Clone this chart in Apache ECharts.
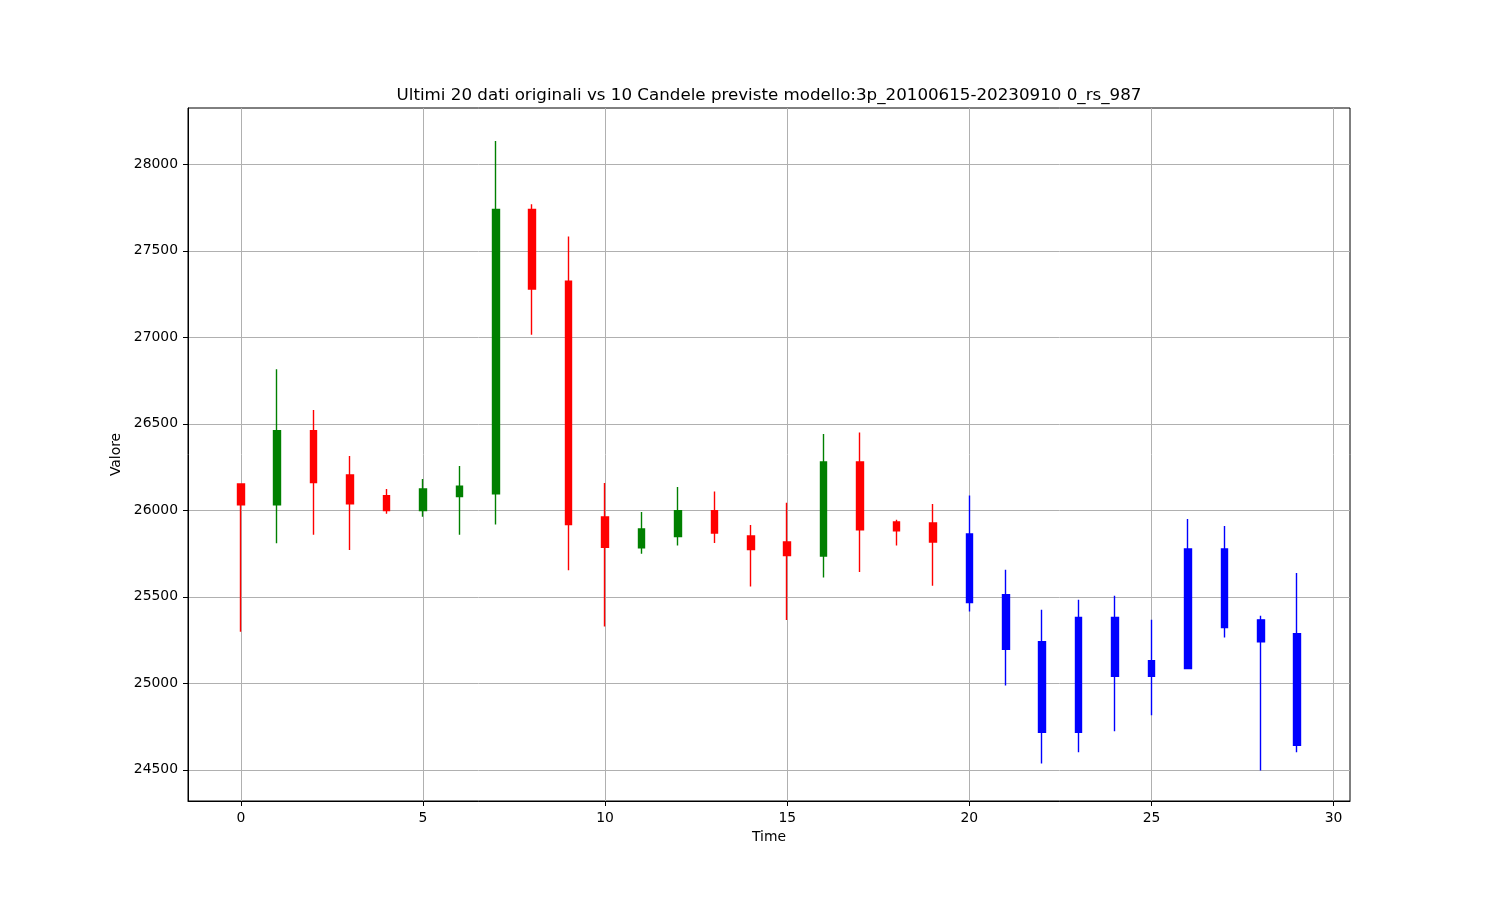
<!DOCTYPE html>
<html><head><meta charset="utf-8">
<script src="https://cdn.jsdelivr.net/npm/echarts@6/dist/echarts.min.js"></script>
<style>html,body{margin:0;padding:0;background:#fff}#c{width:1500px;height:900px}</style>
</head><body><div id="c"></div>
<script>
// Historical candles (x = 0..19)
const histTime  = [0,1,2,3,4,5,6,7,8,9,10,11,12,13,14,15,16,17,18,19];
const histOpen  = [26152,26032,26460,26204,26084,25998,26079,26096,27739,27324,25961,25784,25848,25998,25852,25817,25736,26279,25933,25927];
const histClose = [26032,26460,26160,26038,25998,26123,26140,27739,27279,25918,25786,25892,25998,25869,25773,25738,26279,25888,25882,25817];
const histLow   = [25298,25809,25859,25771,25980,25963,25859,25918,27014,25653,25329,25749,25796,25811,25559,25366,25611,25643,25796,25564];
const histHigh  = [26152,26815,26580,26314,26123,26181,26256,28135,27769,27583,26158,25990,26135,26108,25915,26044,26441,26449,25946,26037];
// Predicted candles (x = 20..29)
const predTime  = [20,21,22,23,24,25,26,27,28,29];
const predOpen  = [25863,25512,25240,25381,25381,25131,25777,25777,25367,25287];
const predClose = [25467,25196,24717,24717,25040,25040,25085,25323,25240,24642];
const predLow   = [25415,24988,24537,24602,24723,24815,25085,25265,24496,24602];
const predHigh  = [26085,25656,25425,25483,25506,25367,25950,25910,25390,25638];
// Axis ticks
const xTicks = [0,5,10,15,20,25,30];
const yTicks = [24500,25000,25500,26000,26500,27000,27500,28000];
const xRange = [-1.45, 30.45];
const yRange = [24320, 28325];

const titleText = 'Ultimi 20 dati originali vs 10 Candele previste modello:3p_20100615-20230910 0_rs_987';

const histData = histTime.map((t,i)=>[t, histOpen[i], histClose[i], histLow[i], histHigh[i]]);
const predData = predTime.map((t,i)=>[t, predOpen[i], predClose[i], predLow[i], predHigh[i]]);

const font = 'DejaVu Sans';
const chart = echarts.init(document.getElementById('c'), null, {renderer:'canvas'});
chart.setOption({
  animation:false,
  backgroundColor:'#ffffff',
  title:{text:titleText, left:764, top:82, textAlign:'center',
    textStyle:{fontFamily:font, fontSize:16.7, fontWeight:'normal', color:'#000'}},
  grid:{left:188, right:150, top:108, bottom:99, show:true, borderColor:'#000', borderWidth:1, backgroundColor:'transparent'},
  xAxis:{type:'value', min:xRange[0], max:xRange[1],
    name:'Time', nameLocation:'middle', nameGap:28,
    nameTextStyle:{fontFamily:font, fontSize:13.9, color:'#000'},
    axisLine:{show:true, onZero:false, lineStyle:{color:'#000', width:1}},
    axisTick:{show:true, inside:false, length:5, customValues:xTicks, lineStyle:{color:'#000'}},
    axisLabel:{customValues:xTicks, margin:10, fontFamily:font, fontSize:13.9, color:'#000',
      formatter:v=>String(v)},
    splitLine:{show:true, lineStyle:{color:'#b0b0b0', width:1}}
  },
  yAxis:{type:'value', min:yRange[0], max:yRange[1],
    name:'Valore', nameLocation:'middle', nameGap:47, nameRotate:90,
    nameTextStyle:{fontFamily:font, fontSize:13.9, color:'#000'},
    axisLine:{show:true, onZero:false, lineStyle:{color:'#000', width:1}},
    axisTick:{show:true, inside:false, length:5, customValues:yTicks, lineStyle:{color:'#000'}},
    axisLabel:{customValues:yTicks, margin:10, fontFamily:font, fontSize:13.9, color:'#000',
      formatter:v=>String(v)},
    splitLine:{show:true, lineStyle:{color:'#b0b0b0', width:1}}
  },
  series:[
    {type:'candlestick', name:'hist', data:histData, encode:{x:0, y:[1,2,3,4]},
      barWidth:7,
      itemStyle:{color:'#008000', color0:'#ff0000', borderColor:'#008000', borderColor0:'#ff0000', borderWidth:1.4}},
    {type:'candlestick', name:'pred', data:predData, encode:{x:0, y:[1,2,3,4]},
      barWidth:7,
      itemStyle:{color:'#0000ff', color0:'#0000ff', borderColor:'#0000ff', borderColor0:'#0000ff', borderWidth:1.4}}
  ]
});
</script>
</body></html>
